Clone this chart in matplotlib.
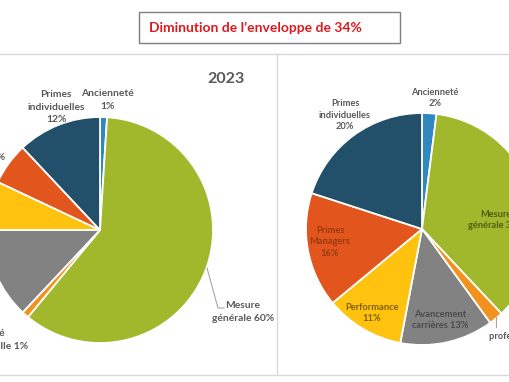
import matplotlib
matplotlib.use("Agg")
import matplotlib.pyplot as plt
from matplotlib.patches import Rectangle

plt.rcParams['font.family'] = ['Lato', 'DejaVu Sans']

# ---- data ----
categories = ["Ancienneté", "Mesure générale", "Mobilité professionnelle",
              "Avancement carrières", "Performance", "Primes Managers",
              "Primes individuelles"]
values_2023 = [1, 60, 1, 13, 7, 6, 12]
values_2024 = [2, 36, 2, 13, 11, 16, 20]
labels_2023 = ["Ancienneté\n1%", "Mesure\ngénérale 60%", "Mobilité\nprofessionnelle 1%",
               "Avancement\ncarrières 13%", "Performance\n7%", "Primes Managers 6%",
               "Primes\nindividuelles\n12%"]
labels_2024 = ["Ancienneté\n2%", "Mesure\ngénérale 36%", "Mobilité\nprofessionnelle 2%",
               "Avancement\ncarrières 13%", "Performance\n11%", "Primes\nManagers\n16%",
               "Primes\nindividuelles\n20%"]
title_text = "Diminution de l’enveloppe de 34%"
year_left = "2023"

# ---- style ----
colors = ["#2F88C0", "#A2B82C", "#F0921C", "#828282", "#FFC20E", "#E2561E", "#22506B"]
out_text = "#595959"
in_text_2024 = ["#595959", "#4E5B14", "#595959", "#4A4A4A", "#7F6000", "#9A3A12", "#595959"]

fig = plt.figure(figsize=(5.10, 3.82), dpi=100)
ax = fig.add_axes([0, 0, 1, 1])

# panel borders
ax.plot([0, 510], [54, 54], color="#D9D9D9", lw=1)
ax.plot([0, 510], [375, 375], color="#D9D9D9", lw=1)
ax.plot([277, 277], [54, 375], color="#D9D9D9", lw=1)

wp = dict(edgecolor="white", linewidth=1.3)
# y axis points down (pixel coords) -> counterclock=True with startangle=-90 is clockwise from top on screen
ax.pie(values_2023, colors=colors, startangle=-90, counterclock=True,
       center=(100, 230), radius=113, wedgeprops=wp, frame=True, normalize=True)
ax.pie(values_2024, colors=colors, startangle=-90, counterclock=True,
       center=(422, 229), radius=116, wedgeprops=wp, frame=True, normalize=True)

# labels left pie (the slide is cropped: labels of the grey and yellow slices fall outside)
pos_left = [(107, 100), (243, 312), (-15, 340), None, None, (5, 157), (56, 107)]
for i, (lab, p) in enumerate(zip(labels_2023, pos_left)):
    if p is None:
        continue
    ha = "right" if i == 5 else "center"
    ax.text(p[0], p[1], lab, ha=ha, va="center", fontsize=7.4, fontweight="bold",
            color=out_text, linespacing=1.45)
ax.plot([207, 218, 224], [268, 308, 308], color="#A6A6A6", lw=0.8)

# labels right pie
pos_right = [(435, 98), (496, 220), (528, 331), (440, 320), (372, 313), (330, 242), (345, 115)]
for lab, (x, y), c in zip(labels_2024, pos_right, in_text_2024):
    ax.text(x, y, lab, ha="center", va="center", fontsize=6.7, fontweight="bold",
            color=c, linespacing=1.35)
ax.plot([496, 496], [317, 327], color="#A6A6A6", lw=0.8)

# year
ax.text(226, 79, year_left, ha="center", va="center", fontsize=11.5,
        fontweight="bold", color="#595959")

# title box
ax.add_patch(Rectangle((139, 12), 261, 31, facecolor="white", edgecolor="#7F7F7F", lw=1))
ax.text(149, 27.5, title_text, ha="left", va="center", fontsize=10,
        fontweight="bold", color="#E0191F")

ax.set_xlim(0, 510)
ax.set_ylim(382, 0)
ax.set_aspect("equal")
ax.axis("off")
ax.set_position([0, 0, 1, 1])

fig.savefig("out.png", dpi=100)
